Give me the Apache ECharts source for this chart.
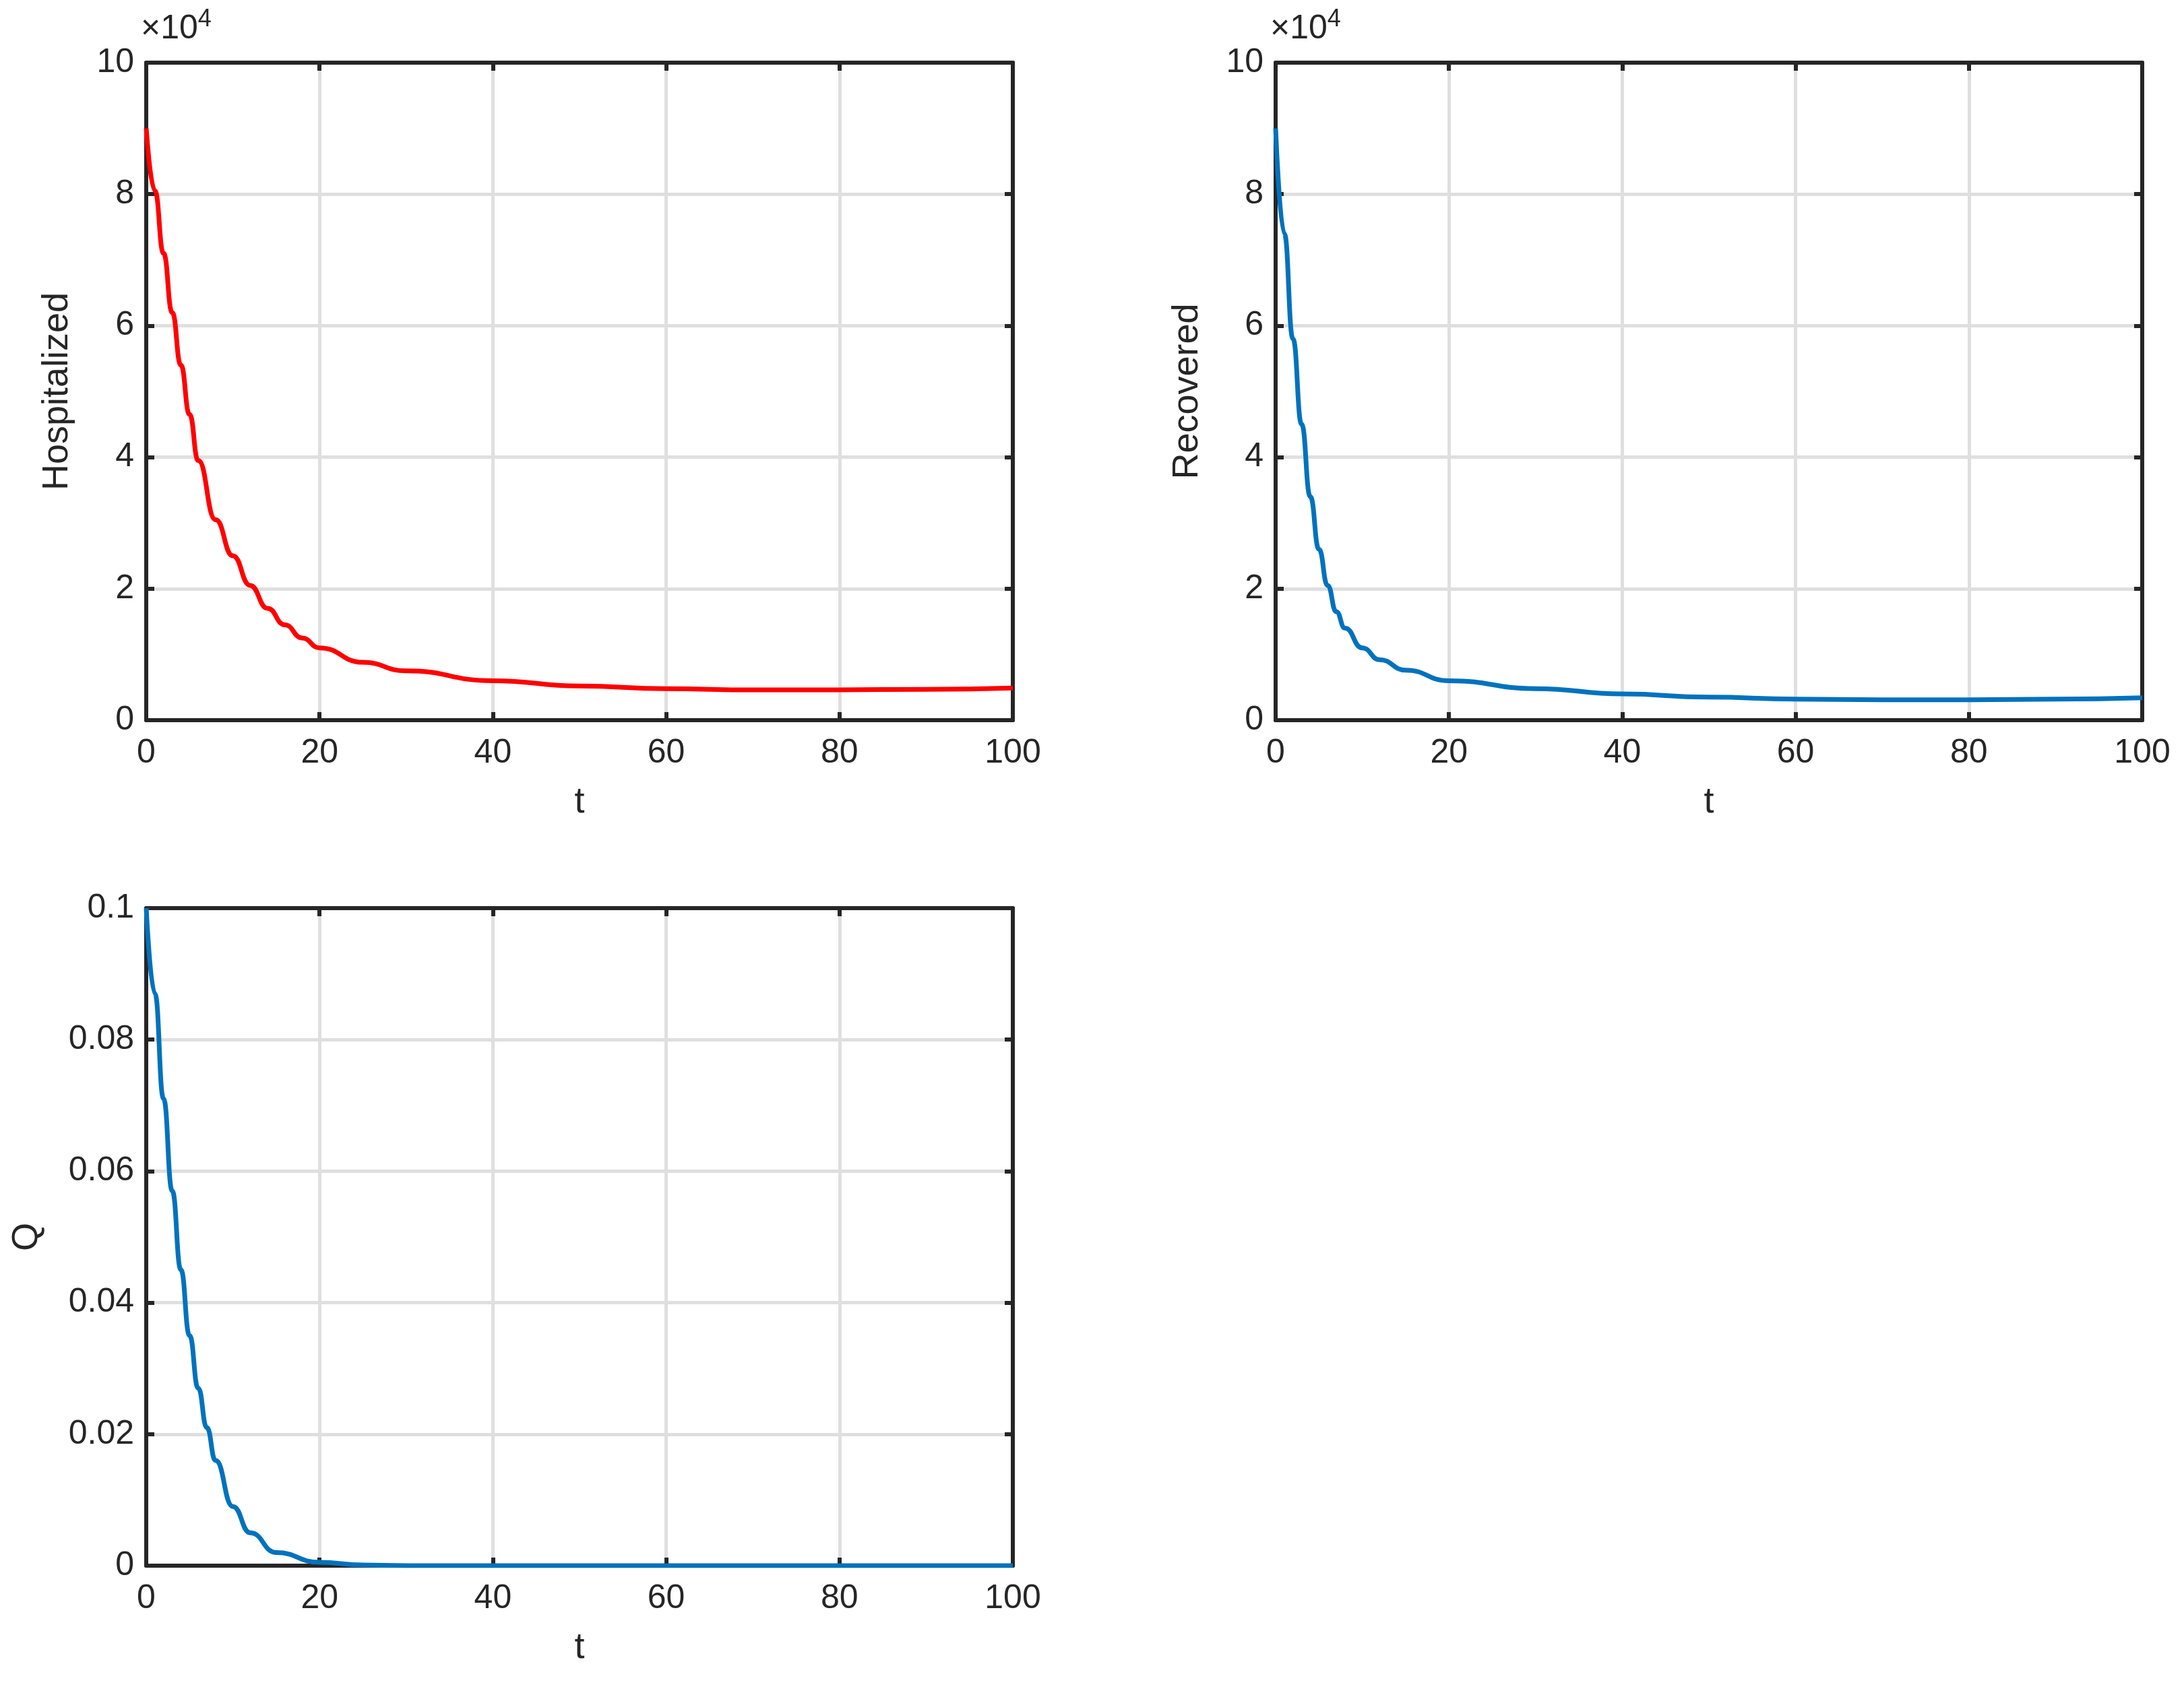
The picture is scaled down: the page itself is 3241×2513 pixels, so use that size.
<!DOCTYPE html>
<html><head><meta charset="utf-8">
<script src="https://cdn.jsdelivr.net/npm/echarts@6/dist/echarts.min.js"></script>
<style>html,body{margin:0;background:#fff}#c{width:3241px;height:2513px}</style>
</head><body><div id="c"></div>
<script>
const FONT = '"Liberation Sans", Helvetica, Arial, sans-serif';
const INK = '#262626';

const hospT = [0, 1, 2, 3, 4, 5, 6, 8, 10, 12, 14, 16, 18, 20, 25, 30, 40, 50, 60, 70, 80, 90, 100];
const hospV = [90000, 80500, 71000, 62000, 54000, 46500, 39500, 30500, 25000, 20500, 17000, 14500, 12500, 11000, 8800, 7500, 6000, 5200, 4800, 4600, 4600, 4700, 4900];

const recT = [0, 1, 2, 3, 4, 5, 6, 7, 8, 10, 12, 15, 20, 30, 40, 50, 60, 70, 80, 90, 100];
const recV = [90000, 74000, 58000, 45000, 34000, 26000, 20500, 16500, 14000, 11000, 9200, 7600, 6000, 4800, 4000, 3500, 3200, 3100, 3100, 3200, 3400];

const qT = [0, 1, 2, 3, 4, 5, 6, 7, 8, 10, 12, 15, 20, 25, 30, 50, 100];
const qV = [0.1, 0.087, 0.071, 0.057, 0.045, 0.035, 0.027, 0.021, 0.016, 0.009, 0.005, 0.002, 0.0005, 0.0001, 0, 0, 0];

const zip = (t, v) => t.map((x, i) => [x, v[i]]);

const grids = [
  { left: 217, top: 93, width: 1286, height: 976 },
  { left: 1893, top: 93, width: 1286, height: 976 },
  { left: 217, top: 1348, width: 1286, height: 976 },
];

const label = { fontFamily: FONT, fontSize: 50, color: INK };
const line = { show: true, onZero: false, lineStyle: { color: INK, width: 6 } };
const tick = { inside: true, length: 12, lineStyle: { color: INK, width: 6 } };
const xAxes = [], yAxes = [];
const yCfg = [
  { max: 100000, interval: 20000, fmt: v => String(v / 10000), exp: true },
  { max: 100000, interval: 20000, fmt: v => String(v / 10000), exp: true },
  { max: 0.1, interval: 0.02, fmt: v => v === 0 ? '0' : String(+v.toFixed(2)), exp: false },
];

grids.forEach((g, i) => {
  const c = yCfg[i];
  xAxes.push({
    gridIndex: i, type: 'value', min: 0, max: 100, interval: 20, position: 'bottom',
    name: 't', nameLocation: 'middle', nameGap: 95,
    nameTextStyle: { fontFamily: FONT, fontSize: 54, color: INK },
    axisLine: line, axisTick: tick,
    axisLabel: { ...label, margin: 24 },
    splitLine: { lineStyle: { color: '#dfdfdf', width: 5 } },
  });
  xAxes.push({
    gridIndex: i, type: 'value', min: 0, max: 100, interval: 20, position: 'top',
    axisLine: line, axisTick: tick, axisLabel: { show: false }, splitLine: { show: false },
  });
  yAxes.push({
    gridIndex: i, type: 'value', min: 0, max: c.max, interval: c.interval, position: 'left',
    name: c.exp ? '{a|×10}{b|4}' : '', nameLocation: 'end', nameGap: 18,
    nameTextStyle: {
      align: 'left', padding: [0, 0, 0, -8],
      rich: {
        a: { fontFamily: FONT, fontSize: 50, color: INK },
        b: { fontFamily: FONT, fontSize: 36, color: INK, verticalAlign: 'top', padding: [0, 0, 28, 0] },
      },
    },
    axisLine: line, axisTick: tick,
    axisLabel: { ...label, margin: 18, formatter: c.fmt },
    splitLine: { lineStyle: { color: '#dfdfdf', width: 5 } },
  });
  yAxes.push({
    gridIndex: i, type: 'value', min: 0, max: c.max, interval: c.interval, position: 'right',
    axisLine: line, axisTick: tick, axisLabel: { show: false }, splitLine: { show: false },
  });
});

const titles = [
  { text: 'Hospitalized', x: 85, y: 581 },
  { text: 'Recovered', x: 1762, y: 581 },
  { text: 'Q', x: 40, y: 1836 },
];

const mk = (i, data, color) => ({
  type: 'line', xAxisIndex: i * 2, yAxisIndex: i * 2, data, smooth: 0.5, smoothMonotone: 'x',
  showSymbol: false, lineStyle: { color, width: 7 }, z: 5,
});

const chart = echarts.init(document.getElementById('c'));
chart.setOption({
  animation: false,
  grid: grids,
  xAxis: xAxes,
  yAxis: yAxes,
  graphic: titles.map(t => ({
    type: 'text', x: t.x, y: t.y, rotation: Math.PI / 2,
    style: { text: t.text, font: `54px ${FONT}`, fill: INK, align: 'center', verticalAlign: 'middle' },
  })),
  series: [
    mk(0, zip(hospT, hospV), '#ff0000'),
    mk(1, zip(recT, recV), '#0072bd'),
    mk(2, zip(qT, qV), '#0072bd'),
  ],
});
</script></body></html>
